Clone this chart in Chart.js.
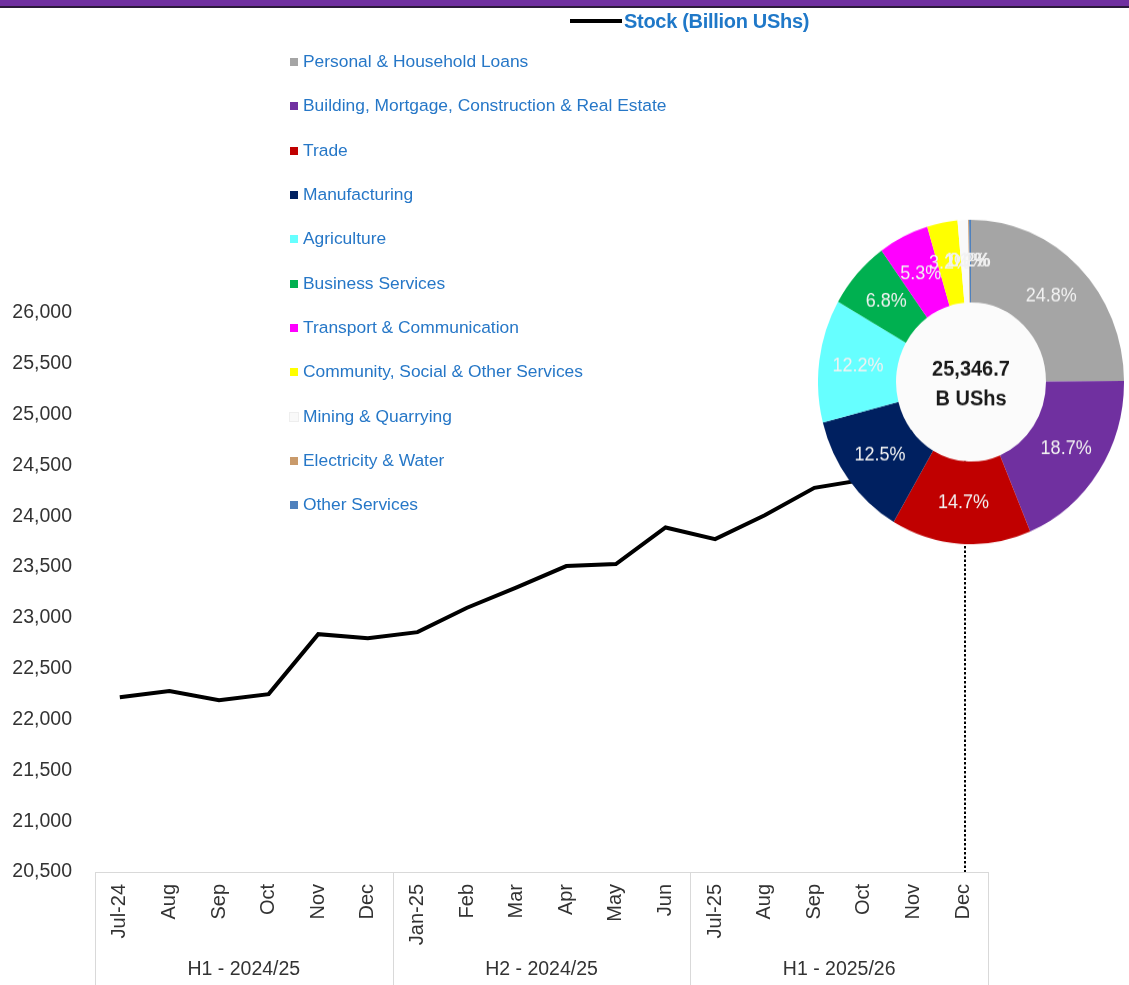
<!DOCTYPE html>
<html>
<head>
<meta charset="utf-8">
<script src="https://cdn.jsdelivr.net/npm/chart.js@4.4.1/dist/chart.umd.min.js"></script>
<style>
  body { margin: 0; background: #fff; }
  #wrap { position: relative; width: 1129px; height: 985px; overflow: hidden; background: #fff; font-family: 'Liberation Sans', Arial, sans-serif; }
  #topbar { position: absolute; left: 0; top: 0; width: 1129px; height: 6px; background: #7030a0; border-bottom: 2px solid #2b1a3a; }
  #mainChart { position: absolute; left: 0; top: 0; }
  #stockLegend { position: absolute; left: 570px; top: 8px; height: 26px; display: flex; align-items: center; }
  #stockLegend .swatch { width: 52px; height: 4px; background: #000; margin-right: 2px; }
  #stockLegend .txt { font-weight: bold; font-size: 20px; color: #1f78c8; letter-spacing: -0.3px; }
  #pieLegend { position: absolute; left: 288px; top: 50px; }
  #pieLegend .row { height: 44.35px; display: flex; align-items: flex-start; }
  #pieLegend .box { width: 8px; height: 8px; margin: 8px 5px 0 2px; }
  #pieLegend .lbl { font-size: 17.4px; color: #2677c7; line-height: 23px; }
  #pieBox { position: absolute; left: 818px; top: 229px; width: 306px; height: 306px; transform: scaleY(1.06); transform-origin: 50% 50%; }
</style>
</head>
<body>
<div id="wrap">
  <div id="topbar"></div>
  <canvas id="mainChart" width="1129" height="985"></canvas>
  <div id="stockLegend"><span class="swatch"></span><span class="txt">Stock (Billion UShs)</span></div>
  <div id="pieLegend"></div>
  <div id="pieBox"><canvas id="pieChart" width="306" height="306"></canvas></div>
</div>
<script>
// ================== Data ==================
const months = ['Jul-24', 'Aug', 'Sep', 'Oct', 'Nov', 'Dec', 'Jan-25', 'Feb', 'Mar', 'Apr', 'May', 'Jun',
                'Jul-25', 'Aug', 'Sep', 'Oct', 'Nov', 'Dec'];
const halves = ['H1 - 2024/25', 'H2 - 2024/25', 'H1 - 2025/26'];
const stockValues = [22220, 22280, 22190, 22250, 22840, 22800, 22860, 23100, 23300, 23510, 23530, 23890,
                     23775, 24010, 24280, 24360, 24850, 25346.7];
const yMin = 20500;
const yMax = 26000;
const yStep = 500;

const sectors = ['Personal & Household Loans', 'Building, Mortgage, Construction & Real Estate', 'Trade',
                 'Manufacturing', 'Agriculture', 'Business Services', 'Transport & Communication',
                 'Community, Social & Other Services', 'Mining & Quarrying', 'Electricity & Water', 'Other Services'];
const sectorShares = [24.8, 18.7, 14.7, 12.5, 12.2, 6.8, 5.3, 3.2, 1.1, 0.1, 0.2];
const sectorColors = ['#a5a5a5', '#7030a0', '#c00000', '#002060', '#66ffff', '#00b050', '#ff00ff',
                      '#ffff00', '#f9f9f9', '#c99a6b', '#4f81bd'];
const stockTotalText = ['25,346.7', 'B UShs'];

Chart.defaults.font.family = "'Liberation Sans', Arial, sans-serif";

// ================== Legend for the doughnut ==================
const legendEl = document.getElementById('pieLegend');
sectors.forEach((name, i) => {
  const row = document.createElement('div');
  row.className = 'row';
  const box = document.createElement('span');
  box.className = 'box';
  box.style.background = sectorColors[i];
  if (i === 8) box.style.outline = '1px solid #eeeeee';
  const lbl = document.createElement('span');
  lbl.className = 'lbl';
  lbl.textContent = name;
  row.appendChild(box);
  row.appendChild(lbl);
  legendEl.appendChild(row);
});

// ----- Main line chart extras: drop line, category box, half-year labels -----
const axisExtras = {
  id: 'axisExtras',
  beforeDatasetsDraw(chart) {
    const ctx = chart.ctx;
    const pt = chart.getDatasetMeta(0).data[stockValues.length - 1];
    ctx.save();
    ctx.strokeStyle = '#000';
    ctx.lineWidth = 2;
    ctx.setLineDash([2.5, 2]);
    ctx.beginPath();
    ctx.moveTo(Math.round(pt.x) + 2, pt.y);
    ctx.lineTo(Math.round(pt.x) + 2, chart.chartArea.bottom);
    ctx.stroke();
    ctx.restore();
  },
  afterDraw(chart) {
    const ctx = chart.ctx;
    const x = chart.scales.x;
    const half = (x.getPixelForValue(1) - x.getPixelForValue(0)) / 2;
    const top = chart.chartArea.bottom;
    const bottom = chart.height;
    ctx.save();
    ctx.strokeStyle = '#d9d9d9';
    ctx.lineWidth = 1;
    for (let g = 0; g <= halves.length; g++) {
      const idx = Math.min(g * 6, months.length - 1);
      const px = g * 6 >= months.length ? x.getPixelForValue(idx) + half : x.getPixelForValue(idx) - half;
      ctx.beginPath();
      ctx.moveTo(Math.round(px) + 0.5, top);
      ctx.lineTo(Math.round(px) + 0.5, bottom);
      ctx.stroke();
    }
    ctx.fillStyle = '#333';
    ctx.font = "19.5px 'Liberation Sans', Arial, sans-serif";
    ctx.textAlign = 'center';
    ctx.textBaseline = 'middle';
    halves.forEach((h, g) => {
      const cx = (x.getPixelForValue(g * 6) + x.getPixelForValue(g * 6 + 5)) / 2;
      ctx.fillText(h, cx, 970);
    });
    ctx.restore();
  }
};

new Chart(document.getElementById('mainChart'), {
  type: 'line',
  data: {
    labels: months,
    datasets: [{
      label: 'Stock (Billion UShs)',
      data: stockValues,
      borderColor: '#000',
      borderWidth: 4,
      pointRadius: 0,
      tension: 0,
      fill: false
    }]
  },
  options: {
    responsive: false,
    animation: false,
    layout: { padding: { top: 313, right: 141, left: 0, bottom: 0 } },
    plugins: { legend: { display: false }, tooltip: { enabled: false } },
    scales: {
      x: {
        offset: true,
        grid: { display: false, drawTicks: false },
        border: { display: true, color: '#d9d9d9' },
        ticks: { autoSkip: false, minRotation: 90, maxRotation: 90, padding: 12, color: '#333', font: { size: 20 } },
        afterFit(scale) { scale.height = 113; }
      },
      y: {
        min: yMin,
        max: yMax,
        grid: { display: false, drawTicks: false },
        border: { display: false },
        ticks: { stepSize: yStep, padding: 23, color: '#333', font: { size: 19.5 } },
        afterFit(scale) { scale.width = 95; }
      }
    }
  },
  plugins: [axisExtras]
});

// ----- Doughnut extras: white hole, centre total, slice labels -----
const donutExtras = {
  id: 'donutExtras',
  beforeDatasetsDraw(chart) {
    const arc = chart.getDatasetMeta(0).data[0];
    const ctx = chart.ctx;
    ctx.save();
    ctx.fillStyle = '#fbfbfb';
    ctx.beginPath();
    ctx.arc(arc.x, arc.y, arc.innerRadius, 0, Math.PI * 2);
    ctx.fill();
    ctx.restore();
  },
  afterDatasetsDraw(chart) {
    const ctx = chart.ctx;
    const arcs = chart.getDatasetMeta(0).data;
    ctx.save();
    ctx.textAlign = 'center';
    ctx.textBaseline = 'middle';
    ctx.font = "18px 'Liberation Sans', Arial, sans-serif";
    ctx.fillStyle = '#f2f2f2';
    arcs.forEach((a, i) => {
      const p = a.tooltipPosition();
      ctx.fillText(sectorShares[i].toFixed(1) + '%', p.x, p.y);
    });
    const c = arcs[0];
    ctx.fillStyle = '#1a1a1a';
    ctx.font = "bold 20px 'Liberation Sans', Arial, sans-serif";
    ctx.fillText(stockTotalText[0], c.x, c.y - 12);
    ctx.fillText(stockTotalText[1], c.x, c.y + 16);
    ctx.restore();
  }
};

new Chart(document.getElementById('pieChart'), {
  type: 'doughnut',
  data: {
    labels: sectors,
    datasets: [{ data: sectorShares, backgroundColor: sectorColors, borderWidth: 0 }]
  },
  options: {
    responsive: false,
    animation: false,
    cutout: '49%',
    layout: { padding: 0 },
    plugins: { legend: { display: false }, tooltip: { enabled: false } }
  },
  plugins: [donutExtras]
});
</script>
</body>
</html>
